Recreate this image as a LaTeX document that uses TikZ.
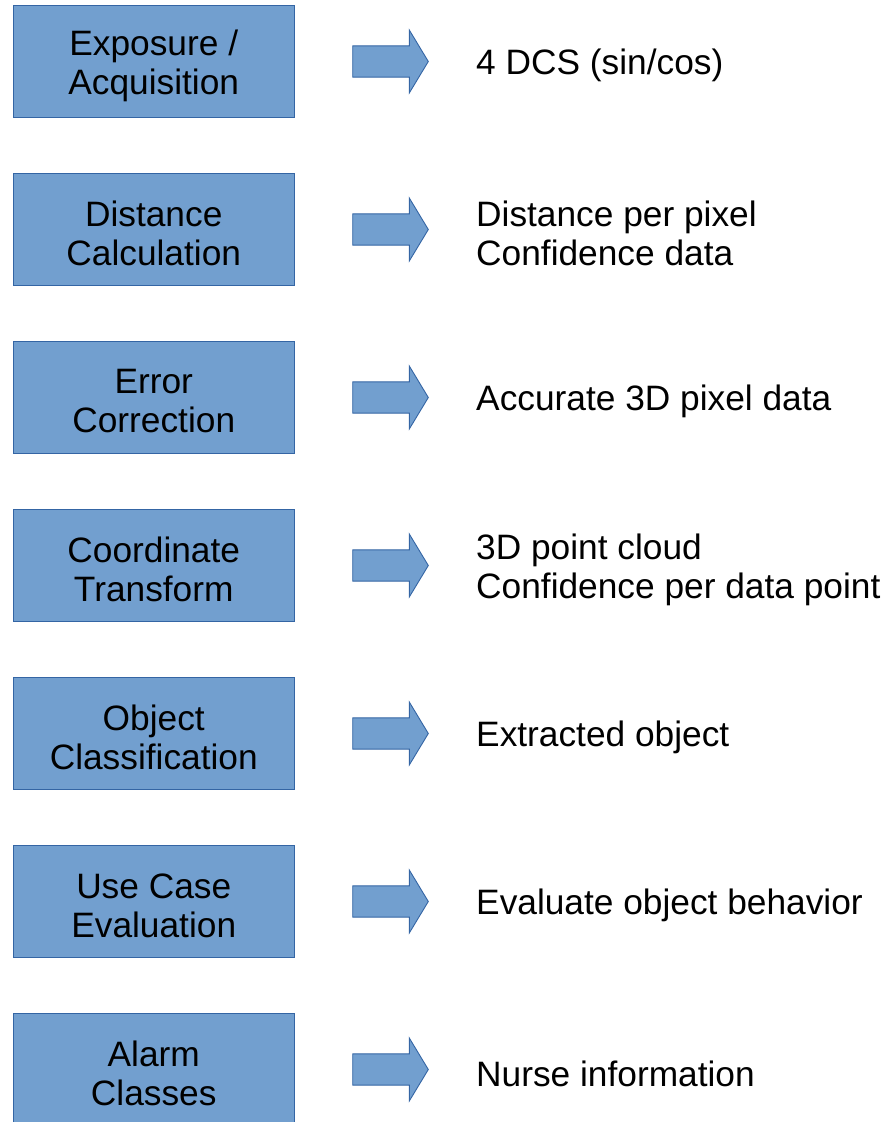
\documentclass[tikz,border=0pt]{standalone}
\usepackage{fontspec}
\setmainfont{Liberation Sans}
\definecolor{boxfill}{HTML}{729FCF}
\definecolor{boxline}{HTML}{3465A4}
\begin{document}
\begin{tikzpicture}[x=1pt,y=-1pt,
  stagebox/.style={draw=boxline,fill=boxfill,line width=0.9pt,minimum width=280.5pt,minimum height=112pt,inner sep=0pt,align=center},
  stagetext/.style={align=center,inner sep=0pt,font=\fontsize{35.3}{39}\selectfont},
  result/.style={anchor=west,align=left,inner sep=0pt,font=\fontsize{35.3}{39}\selectfont},
  blockarrow/.style={draw=boxline,fill=boxfill,line width=0.9pt,line join=miter}]
\useasboundingbox (0,0) rectangle (886,1122);
\clip (0,0) rectangle (886,1122);
\foreach \i/\lab/\res in {0/{Exposure /\\Acquisition}/{4 DCS (sin/cos)},
  1/{Distance\\Calculation}/{Distance per pixel\\Confidence data},
  2/{Error\\Correction}/{Accurate 3D pixel data},
  3/{Coordinate\\Transform}/{3D point cloud\\Confidence per data point},
  4/{Object\\Classification}/{Extracted object},
  5/{Use Case\\Evaluation}/{Evaluate object behavior},
  6/{Alarm\\Classes}/{Nurse information}}{
  \pgfmathsetmacro{\cy}{61.5+168*\i}
  \node[stagebox] (s\i) at (153.75,\cy) {};
  \node[stagetext] (t\i) at (153.75,\cy+4) {\lab};
  \node[result] (r\i) at (476,\cy+4) {\res};
  \draw[blockarrow] (352.7,\cy-15.6) -- (409.3,\cy-15.6) -- (409.3,\cy-31.5) -- (428.3,\cy) -- (409.3,\cy+31.5) -- (409.3,\cy+15.6) -- (352.7,\cy+15.6) -- cycle;
}
\end{tikzpicture}
\end{document}
